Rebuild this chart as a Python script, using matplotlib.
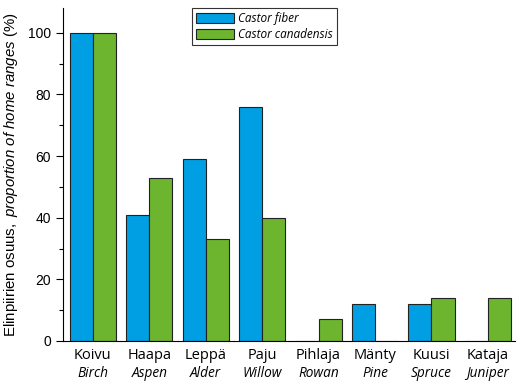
import numpy as np
import matplotlib
matplotlib.use("Agg")
import matplotlib.pyplot as plt
from matplotlib.ticker import MultipleLocator

plt.rcParams["font.family"] = ["Open Sans", "DejaVu Sans"]
plt.rcParams["mathtext.fontset"] = "custom"
plt.rcParams["mathtext.rm"] = "Liberation Sans"
plt.rcParams["mathtext.it"] = "Liberation Sans:italic"

# data
fi_names = ["Koivu", "Haapa", "Leppä", "Paju", "Pihlaja", "Mänty", "Kuusi", "Kataja"]
en_names = ["Birch", "Aspen", "Alder", "Willow", "Rowan", "Pine", "Spruce", "Juniper"]
castor_fiber = [100, 41, 59, 76, 0, 12, 12, 0]
castor_canadensis = [100, 53, 33, 40, 7, 0, 14, 14]

x = np.arange(len(fi_names))
w = 0.41

fig = plt.figure(figsize=(5.18, 3.84), dpi=100)
ax = fig.add_axes([0.1216, 0.112, 0.8724, 0.867])

ax.bar(x - w / 2, castor_fiber, w, color="#009FE3", edgecolor="#222222",
       linewidth=0.8, label="Castor fiber")
ax.bar(x + w / 2, castor_canadensis, w, color="#6DB52F", edgecolor="#222222",
       linewidth=0.8, label="Castor canadensis")

ax.set_xlim(-0.53, 7.48)
ax.set_ylim(0, 108)
ax.yaxis.set_major_locator(MultipleLocator(20))
ax.yaxis.set_minor_locator(MultipleLocator(10))
ax.spines["top"].set_visible(False)
ax.spines["right"].set_visible(False)
ax.tick_params(axis="y", direction="out", length=5, width=0.8, labelsize=10)
ax.tick_params(axis="y", which="minor", length=3, width=0.8)
for lbl in ax.get_yticklabels():
    lbl.set_family("Liberation Sans")

ax.set_xticks(x)
ax.set_xticklabels(fi_names, fontsize=10.5)
ax.tick_params(axis="x", length=0, pad=5)
for xi, name in zip(x, en_names):
    ax.text(xi, -0.075, name, transform=ax.get_xaxis_transform(), ha="center",
            va="top", fontsize=9.8, style="italic")

ax.set_ylabel(r"$\mathrm{Elinpiirien\ osuus,\ }\mathit{proportion\ of\ home\ ranges\ (\%)}$",
              fontsize=10.8, labelpad=6)

leg = ax.legend(loc="upper left", bbox_to_anchor=(0.285, 1.0), borderaxespad=0,
                frameon=True, fancybox=False, edgecolor="black", handlelength=3.2,
                handleheight=0.9, borderpad=0.35, labelspacing=0.25,
                handletextpad=0.4, prop={"size": 8.5, "style": "italic"})
leg.get_frame().set_linewidth(0.8)

plt.savefig("out.png", dpi=100)
